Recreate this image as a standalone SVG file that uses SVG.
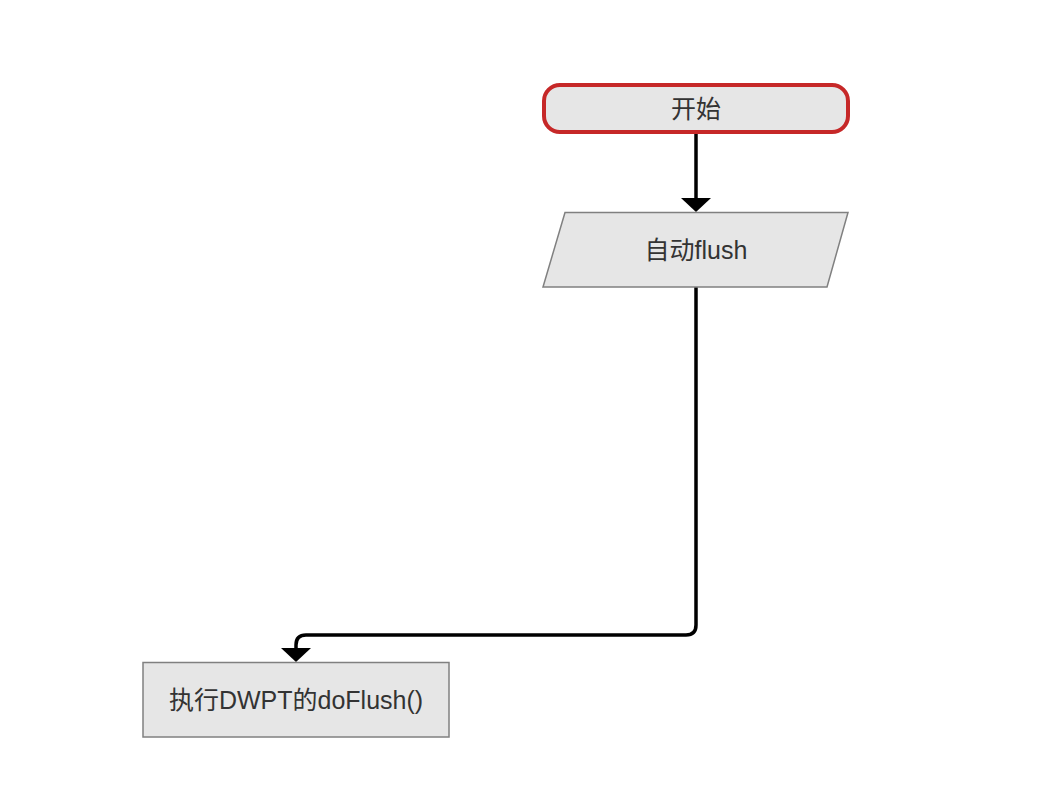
<svg xmlns="http://www.w3.org/2000/svg" width="1042" height="802" viewBox="0 0 1042 802">
<defs>
<style>
.node{fill:#e6e6e6;stroke:#808080;stroke-width:1.5}
.lbl{font-family:"Liberation Sans","Noto Sans CJK SC",sans-serif;font-size:25px;fill:#333333;text-anchor:middle;dominant-baseline:central}
.edge{fill:none;stroke:#000;stroke-width:3.5}
</style>
<marker id="arr" markerWidth="10" markerHeight="8" refX="10" refY="4" orient="auto" markerUnits="userSpaceOnUse" viewBox="0 0 10 8">
<path d="M0,0 L10,4 L0,8 Z" fill="#000"/>
</marker>
</defs>
<rect width="1042" height="802" fill="#fff"/>
<g id="edges">
<path class="edge" d="M696,132 V200"/>
<polygon points="681,198 711,198 696,212" fill="#000"/>
<path class="edge" d="M696,287 V625 Q696,635 686,635 H306 Q296,635 296,645 V650"/>
<polygon points="281,648 311,648 296,662" fill="#000"/>
</g>
<g id="start">
<rect x="544" y="85" width="304" height="47" rx="16" ry="16" fill="#e6e6e6" stroke="#c62828" stroke-width="4"/>
<text class="lbl" x="696" y="108.5">开始</text>
</g>
<g id="autoflush">
<polygon class="node" points="565,212.5 848,212.5 827,287 543,287"/>
<text class="lbl" x="696" y="250">自动flush</text>
</g>
<g id="doflush">
<rect class="node" x="143" y="662.5" width="306" height="74.5"/>
<text class="lbl" x="296" y="700">执行DWPT的doFlush()</text>
</g>
</svg>
